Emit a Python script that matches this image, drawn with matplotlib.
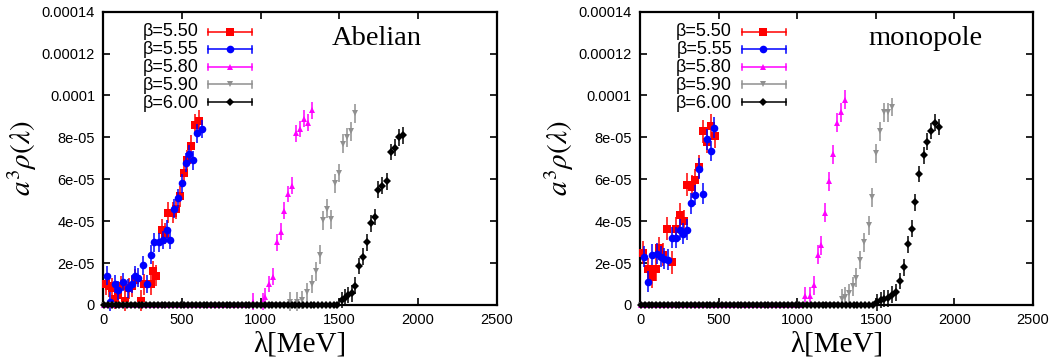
import numpy as np
import matplotlib.pyplot as plt
from matplotlib.lines import Line2D

plt.rcParams['font.family'] = 'Liberation Sans'
plt.rcParams['mathtext.fontset'] = 'stix'

betas = ['5.50', '5.55', '5.80', '5.90', '6.00']
colors = ['#ff0000', '#0000ff', '#ff00ff', '#909090', '#000000']
markers = ['s', 'o', '^', 'v', 'D']
msizes = [5.5, 5.5, 4.5, 4.5, 3.6]

# ---- Abelian panel (lambda in MeV, a^3 rho in units of 1e-5) ----
ab_x = [
    [15, 35, 55, 75, 95, 115, 140, 160, 180, 200, 240, 260, 300, 315, 335,
     370, 390, 410, 440, 460, 490, 510, 530, 560, 580, 605],
    [25, 42, 74, 95, 127, 159, 180, 201, 222, 254, 275, 300, 324, 356, 381,
     403, 424, 449, 475, 498, 523, 545, 572, 597, 625],
    [953, 1017, 1027, 1055, 1076, 1102, 1127, 1148, 1174, 1201, 1225, 1250,
     1275, 1301, 1324],
    [1186, 1229, 1260, 1292, 1324, 1352, 1377, 1398, 1419, 1447, 1472, 1498,
     1525, 1551, 1572, 1600],
    [1515, 1536, 1557, 1578, 1600, 1623, 1648, 1674, 1699, 1727, 1748, 1773,
     1801, 1826, 1852, 1877, 1903],
]
ab_y = [
    [1.0, 0.9, 0.8, 0.3, 0.5, 0.9, 0.2, 0.8, 0.9, 1.2, 0.2, 1.0, 1.0, 1.6, 1.4,
     3.6, 3.4, 4.4, 4.4, 4.6, 5.2, 6.3, 6.9, 7.6, 8.6, 8.8],
    [1.4, 0.15, 1.0, 0.7, 1.1, 0.8, 1.0, 1.4, 1.3, 1.9, 1.0, 2.4, 3.0, 3.0, 3.1,
     3.6, 3.1, 4.6, 5.1, 5.8, 6.8, 7.2, 6.9, 8.2, 8.4],
    [0.15, 0.15, 0.4, 1.0, 1.35, 3.0, 3.5, 4.5, 5.3, 5.7, 8.2, 8.4, 8.9, 8.7, 9.3],
    [0.15, 0.15, 0.24, 0.6, 1.0, 1.6, 2.4, 4.05, 4.6, 4.1, 5.8, 6.3, 7.7, 8.0,
     8.3, 9.15],
    [0.24, 0.35, 0.48, 0.56, 0.92, 1.86, 2.3, 3.0, 3.9, 4.2, 5.5, 5.7, 5.9, 7.3,
     7.5, 8.0, 8.1],
]
ab_err = [0.5, 0.45, 0.4, 0.45, 0.4]
# empty bins (rho = 0) below the onset: bin width and last empty bin
ab_zero_bin = [None, None, 24.7, 26.0, 24.3]
ab_zero_end = [None, None, 930, 1165, 1495]

# ---- monopole panel ----
mo_x = [
    [21, 53, 74, 102, 123, 149, 174, 202, 227, 255, 280, 301, 329, 350, 376,
     403, 424, 450, 477],
    [25, 49, 76, 106, 132, 155, 176, 204, 227, 255, 276, 301, 325, 350, 376,
     403, 424, 450, 473],
    [1050, 1078, 1104, 1129, 1152, 1178, 1203, 1227, 1252, 1278, 1303],
    [1284, 1305, 1326, 1352, 1375, 1401, 1426, 1454, 1475, 1500, 1524, 1549,
     1575, 1602],
    [1507, 1532, 1553, 1575, 1602, 1628, 1651, 1677, 1702, 1728, 1751, 1776,
     1804, 1825, 1851, 1876, 1900],
]
mo_y = [
    [2.5, 1.7, 1.35, 1.7, 2.7, 2.4, 3.65, 2.05, 3.65, 4.3, 4.0, 5.75, 5.65,
     5.95, 6.6, 8.3, 7.8, 8.55, 8.05],
    [2.3, 1.1, 2.4, 2.45, 2.3, 2.2, 2.15, 3.2, 3.2, 3.6, 3.4, 3.6, 4.85, 5.25,
     6.5, 5.3, 7.9, 7.35, 8.45],
    [0.43, 0.43, 0.95, 2.4, 2.85, 4.4, 5.9, 7.2, 8.7, 9.2, 9.8],
    [0.3, 0.4, 0.56, 0.9, 1.3, 2.15, 3.0, 3.8, 5.15, 7.25, 8.3, 9.2, 9.2, 9.45],
    [0.13, 0.24, 0.3, 0.32, 0.5, 0.6, 1.15, 1.8, 2.9, 3.65, 4.9, 6.25, 7.15,
     7.8, 8.3, 8.7, 8.5],
]
mo_err = [0.55, 0.5, 0.45, 0.45, 0.4]
mo_zero_bin = [None, None, 25.3, 24.5, 24.6]
mo_zero_end = [None, None, 1025, 1260, 1485]


def draw_panel(ax, xs, ys, errs, zbin, zend, name, key_x):
    for i in range(5):
        x = list(xs[i])
        y = list(ys[i])
        if zbin[i] is not None:
            zx = np.arange(5, zend[i], zbin[i])
            x = list(zx) + x
            y = [0.0] * len(zx) + y
        x = np.array(x)
        y = np.array(y) * 1e-5
        e = np.where(y > 0, errs[i] * 1e-5, 0.0)
        ax.errorbar(x, y, yerr=e, fmt=markers[i], color=colors[i],
                    ms=msizes[i], mew=0, capsize=3.2, elinewidth=1.1,
                    capthick=1.1, zorder=3 + i, clip_on=False)

    ax.set_xlim(0, 2500)
    ax.set_ylim(0, 0.00014)
    ax.set_xticks([0, 500, 1000, 1500, 2000, 2500])
    yt = [0, 2e-5, 4e-5, 6e-5, 8e-5, 1e-4, 1.2e-4, 1.4e-4]
    ax.set_yticks(yt)
    ax.set_yticklabels(['0', '2e-05', '4e-05', '6e-05', '8e-05', '0.0001',
                        '0.00012', '0.00014'])
    ax.tick_params(direction='in', length=5, width=1.2, top=True, right=True,
                   labelsize=10.5, pad=6)
    for s in ax.spines.values():
        s.set_linewidth(1.6)

    ax.set_xlabel('λ[MeV]', family='Liberation Serif', fontsize=21,
                  labelpad=3)
    ax.set_ylabel(r'$a^3\rho(\lambda)$', fontsize=21, labelpad=2)

    ax.text(0.58, 0.907, name, transform=ax.transAxes, family='Liberation Serif',
            fontsize=20.5, va='center', ha='left')

    # gnuplot style key with error-bar samples
    x0, x1, xm = key_x
    key_text = '\n'.join('β=' + b for b in betas)
    ax.text(x0, 0.811, key_text, transform=ax.transAxes, fontsize=13,
            ha='right', va='center', multialignment='right', linespacing=1.08)
    for i in range(5):
        yy = 0.931 - 0.0597 * i
        ax.add_line(Line2D([x1, x1 + 0.112], [yy, yy], transform=ax.transAxes,
                           color=colors[i], lw=1.1, zorder=10))
        for xe in (x1, x1 + 0.112):
            ax.add_line(Line2D([xe, xe], [yy - 0.011, yy + 0.011],
                               transform=ax.transAxes, color=colors[i],
                               lw=1.1, zorder=10))
        ax.add_line(Line2D([xm], [yy], transform=ax.transAxes,
                           marker=markers[i], ms=msizes[i], mew=0,
                           color=colors[i], zorder=11))


fig = plt.figure(figsize=(10.6, 3.63), dpi=100)
ax1 = fig.add_axes([0.0975, 0.1598, 0.3712, 0.808])
ax2 = fig.add_axes([0.6038, 0.1598, 0.3708, 0.808])

draw_panel(ax1, ab_x, ab_y, ab_err, ab_zero_bin, ab_zero_end, 'Abelian',
           (0.243, 0.266, 0.322))
draw_panel(ax2, mo_x, mo_y, mo_err, mo_zero_bin, mo_zero_end, 'monopole',
           (0.234, 0.260, 0.313))

fig.savefig('out.png', dpi=100)
